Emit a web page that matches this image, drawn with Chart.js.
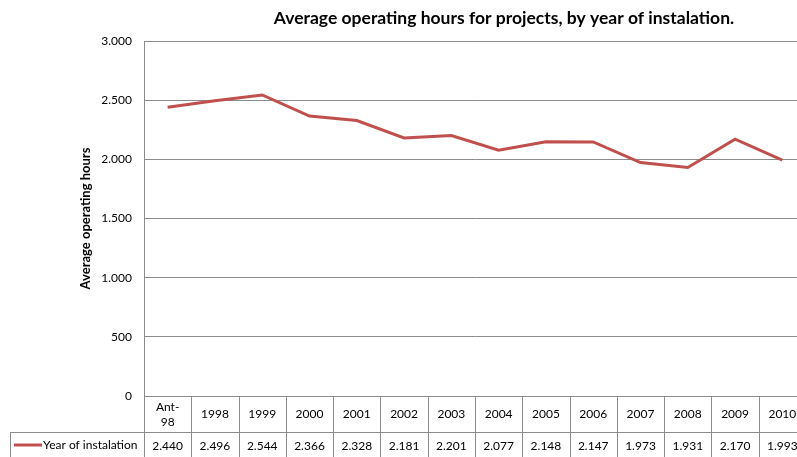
<!DOCTYPE html>
<html>
<head>
<meta charset="utf-8">
<script src="https://cdn.jsdelivr.net/npm/chart.js@4"></script>
<style>
  html, body { margin: 0; padding: 0; background: #fff; overflow: hidden; }
  #wrap { width: 810px; height: 466px; }
</style>
</head>
<body>
<div id="wrap"><canvas id="opChart" width="810" height="466"></canvas></div>
<script>
const categories = ["Ant-98", "1998", "1999", "2000", "2001", "2002", "2003", "2004", "2005", "2006", "2007", "2008", "2009", "2010"];
const hours = [2440, 2496, 2544, 2366, 2328, 2181, 2201, 2077, 2148, 2147, 1973, 1931, 2170, 1993];
const yTicks = [0, 500, 1000, 1500, 2000, 2500, 3000];
const seriesName = "Year of instalation";
const titleText = "Average operating hours for projects, by year of instalation.";

const FONT = "Lato, 'Open Sans', sans-serif";
const lineColor = "#c0504d";
const gridColor = "#8c8c8c";

function fmt(n) {
  return String(n).replace(/\B(?=(\d{3})+(?!\d))/g, ".");
}

// title, data table and legend cell drawn after the chart
const tablePlugin = {
  id: "dataTable",
  afterDraw(chart) {
    const ctx = chart.ctx;
    const x = chart.scales.x;
    const area = chart.chartArea;
    const half = (x.getPixelForValue(1) - x.getPixelForValue(0)) / 2;
    const rowTop = area.bottom;
    const rowMid = rowTop + 36;
    const rowEnd = chart.height;
    const legendLeft = 10;

    ctx.save();
    ctx.strokeStyle = gridColor;
    ctx.lineWidth = 1;
    ctx.beginPath();
    ctx.moveTo(area.left, rowTop + 0.5);
    ctx.lineTo(chart.width, rowTop + 0.5);
    ctx.moveTo(legendLeft, rowMid + 0.5);
    ctx.lineTo(chart.width, rowMid + 0.5);
    ctx.moveTo(legendLeft + 0.5, rowMid);
    ctx.lineTo(legendLeft + 0.5, rowEnd);
    for (let i = 0; i <= categories.length; i++) {
      const px = Math.round(x.getPixelForValue(i) - half) + 0.5;
      ctx.moveTo(px, rowTop);
      ctx.lineTo(px, rowEnd);
    }
    ctx.stroke();

    ctx.fillStyle = "#000";
    ctx.font = "12px " + FONT;
    ctx.textAlign = "center";
    ctx.textBaseline = "middle";
    categories.forEach((c, i) => {
      const cx = x.getPixelForValue(i);
      if (c.indexOf("-") > 0) {
        const parts = c.split("-");
        ctx.fillText(parts[0] + "-", cx, rowTop + 11);
        ctx.fillText(parts[1], cx, rowTop + 26);
      } else {
        ctx.fillText(c, cx, rowTop + 18);
      }
      ctx.fillText(fmt(hours[i]), cx, rowMid + 14);
    });

    // legend key
    ctx.strokeStyle = lineColor;
    ctx.lineWidth = 3;
    ctx.beginPath();
    ctx.moveTo(14, rowMid + 13);
    ctx.lineTo(42, rowMid + 13);
    ctx.stroke();
    ctx.textAlign = "left";
    ctx.fillText(seriesName, 43, rowMid + 13);

    // title
    ctx.font = "bold 17.5px " + FONT;
    ctx.textAlign = "center";
    ctx.fillText(titleText, 504, 18);
    ctx.restore();
  }
};

new Chart(document.getElementById("opChart").getContext("2d"), {
  type: "line",
  data: {
    labels: categories,
    datasets: [{
      label: seriesName,
      data: hours,
      borderColor: lineColor,
      borderWidth: 3,
      pointRadius: 0,
      tension: 0,
      fill: false
    }]
  },
  options: {
    responsive: false,
    animation: false,
    layout: { padding: { left: 78, top: 41, right: 4, bottom: 70 } },
    plugins: {
      legend: { display: false },
      title: { display: false },
      tooltip: { enabled: false }
    },
    scales: {
      x: {
        display: false,
        offset: true
      },
      y: {
        min: 0,
        max: 3000,
        afterBuildTicks(scale) {
          scale.ticks = yTicks.map(v => ({ value: v }));
        },
        afterFit(scale) { scale.width = 66; },
        grid: { color: gridColor, drawTicks: false },
        border: { color: gridColor },
        ticks: {
          padding: 12,
          color: "#000",
          font: { family: FONT, size: 12 },
          callback: v => fmt(v)
        },
        title: {
          display: true,
          text: "Average operating hours",
          color: "#000",
          padding: 0,
          font: { family: FONT, size: 13, weight: "bold" }
        }
      }
    }
  },
  plugins: [tablePlugin]
});
</script>
</body>
</html>
